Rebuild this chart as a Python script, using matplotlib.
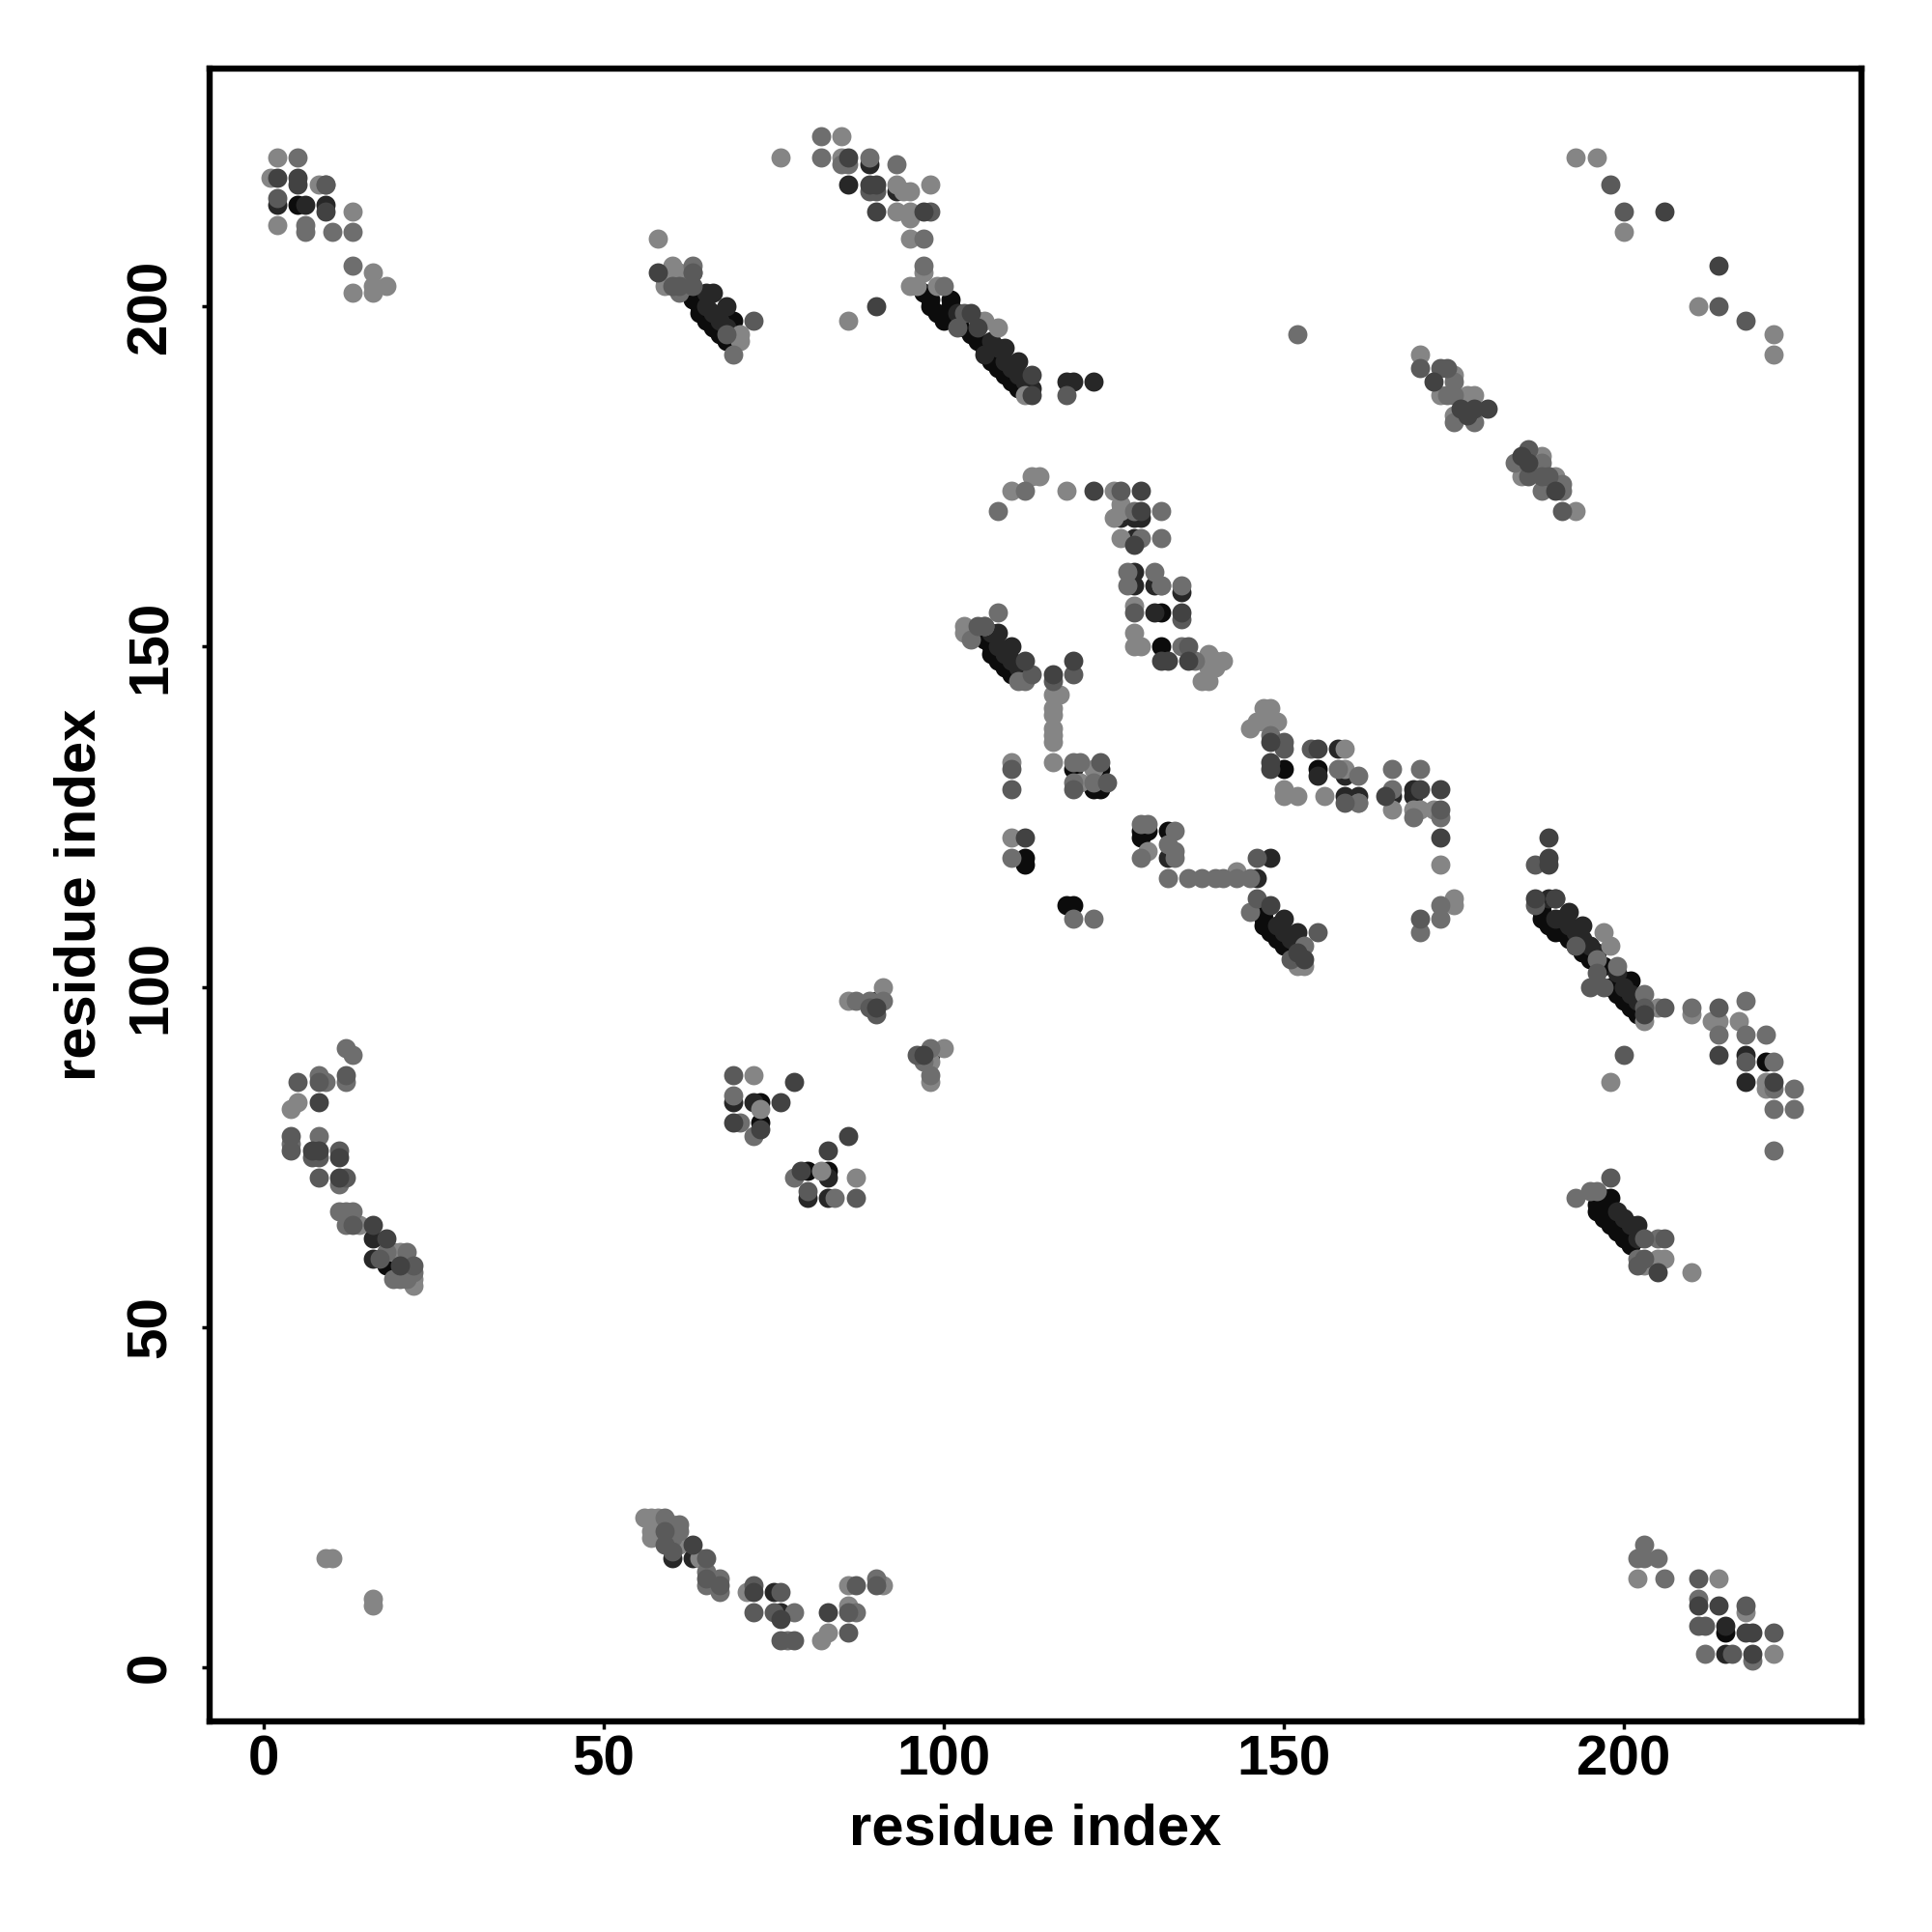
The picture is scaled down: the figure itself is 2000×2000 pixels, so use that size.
import matplotlib
matplotlib.use("Agg")
import matplotlib.pyplot as plt

black_contacts = [(5,215),(63,201),(64,200),(64,199),(65,198),(66,197),(67,196),(68,195),(69,198),
    (97,202),(98,201),(98,200),(99,199),(100,198),(101,201),(101,200),(102,198),(103,197),(104,196),(105,195),(106,194),(107,192),(108,191),(109,190),(110,189),(111,188),(112,188),(108,193),
    (132,150),(132,155),(150,132),(155,132),
    (106,151),(107,150),(107,149),(108,148),(109,147),(110,146),(111,146),
    (112,119),(112,118),(118,112),(119,112),(129,123),(129,122),(130,123),(133,123),
    (123,132),(122,129),(123,129),(123,130),(119,132),
    (147,111),(147,110),(147,109),(148,108),(149,107),(150,106),(151,106),(150,108),(151,107),
    (221,89),(215,5),
    (188,112),(188,111),(188,110),(189,109),(190,108),(191,108),(192,107),(193,106),(194,105),(195,104),(197,103),(198,100),(199,99),(200,98),(201,97),(202,96),(200,101),(201,101),
    (197,69),(198,69),(196,68),(197,67),(197,66),(198,65),(199,64),(200,63),(201,62),(196,67),(197,68),
    (18,59),(60,18),(73,83),(73,80),(80,73),(83,73)]

dark2_contacts = [(2,215),(6,215),(9,215),(89,221),(86,218),(93,217),(122,189),(65,202),(66,202),(68,200),(109,194),(111,192),(106,193),
    (113,188),(107,195),(108,194),
    (126,169),(128,169),(129,169),(128,166),(128,161),(128,159),(131,159),(135,158),(131,155),(107,152),(108,152),(110,150),(119,189),(118,189),
    (158,135),(155,131),(159,131),(166,128),(169,129),(169,128),(133,119),(146,116),(148,119),(150,110),(152,108),(192,111),(194,109),(189,113),
    (218,90),(218,86),(202,65),(16,63),(16,60),(60,16),(63,16),(75,11),(76,8),(215,6),(215,2),(90,98),(98,90),(69,83),(72,83),(83,72),(83,69),(80,69),(161,128),(159,128),(199,102),(200,100),
    (190,110),(191,110),(192,109),(193,108),(194,107),(195,106),(196,105),(199,67),(200,66),(201,65),(202,63),
    (108,150),(109,149),(110,148),(111,147),(149,109),(150,108),(151,107),(152,106),(65,200),(66,199),(67,198),(68,197),(109,192),(110,191),(111,190),(112,189),(102,199),(201,99),(202,98)]

dark_contacts = [(2,219),(5,219),(5,218),(9,214),(58,205),(86,222),(89,218),(90,218),(90,214),(97,214),(104,199),(113,190),(113,187),(119,148),(116,146),
    (129,173),(122,173),(129,170),(128,165),(135,155),(132,148),(133,148),(136,148),(112,148),
    (172,189),(176,185),(178,185),(180,185),(177,184),(185,178),(186,177),(190,173),(206,214),(214,206),(148,136),(155,135),(148,133),(148,132),(165,128),
    (170,129),(173,129),(173,122),(189,122),(189,119),(189,118),(187,113),(190,113),(148,112),(152,105),(153,104),(112,122),(203,96),
    (214,90),(222,86),(205,58),(8,83),(7,76),(8,76),(11,75),(11,72),(16,65),(18,63),(20,59),(63,18),(72,11),(76,7),(83,8),
    (90,97),(97,90),(78,86),(76,83),(69,80),(73,79),(83,76),(86,78),(79,73),(211,9),(214,9),(218,5),(219,5),(219,2),(90,200),(105,197)]

mid_contacts = [(2,216),(9,218),(63,205),(60,203),(61,203),(63,203),(72,198),(68,196),(89,217),(90,217),(98,214),(102,197),(103,199),(118,187),
    (198,218),(200,214),(214,200),(218,198),(170,191),(173,191),(174,191),(191,170),(188,175),(186,175),(189,175),(186,179),
    (126,173),(135,154),(128,155),(136,150),(105,153),(106,153),(113,146),(119,146),(116,145),(110,132),(110,129),(119,129),(124,130),(123,133),
    (150,136),(150,135),(154,135),(159,127),(173,126),(146,119),(187,118),(170,110),(146,113),(155,108),(151,104),(187,112),(190,113),(193,106),(203,97),(206,97),(214,97),(218,89),
    (198,72),(203,63),(206,63),(203,60),(202,59),(200,90),
    (5,86),(8,86),(12,87),(4,78),(4,76),(7,75),(8,75),(11,76),(8,72),(12,72),(13,65),(17,60),(22,59),
    (59,20),(59,18),(60,17),(65,16),(65,13),(67,12),(72,12),(72,8),(75,8),(76,11),(76,4),(78,4),(86,5),(86,8),(87,12),(90,12),
    (89,97),(90,96),(96,90),(69,87),(80,70),(87,69),(211,13),(211,6),(212,6),(218,9),(216,2),(222,5),(196,102),(195,100),(197,100)]

midlight_contacts = [(5,222),(9,218),(6,212),(6,211),(10,211),(13,211),(13,206),(62,203),(61,202),(63,206),(63,205),(69,193),(82,225),(85,221),(86,221),(89,222),(93,221),
    (82,222),(97,210),(97,206),(100,203),(152,196),(175,189),(174,187),(175,187),(178,183),(175,183),(188,177),(188,173),(191,174),(191,173),(184,177),
    (112,173),(108,170),(128,170),(132,170),(129,166),(132,166),(127,161),(127,159),(131,161),(132,159),(135,159),(135,150),(137,148),(108,155),(104,151),
    (111,145),(112,145),(119,133),(120,133),(119,130),(122,130),(110,119),(119,110),(122,110),(129,119),(134,123),(130,124),(129,124),(134,120),(134,119),(133,121),
    (133,116),(136,116),(138,116),(140,116),(141,116),(143,116),(145,116),(148,137),(158,132),(161,131),(161,127),(166,132),(170,132),(166,129),(169,125),(173,125),(173,112),(173,110),(170,108),
    (145,111),(153,106),(203,99),(210,97),(214,93),(218,98),(218,93),(221,93),(222,89),(222,85),(225,85),(222,82),(225,82),(222,76),
    (193,69),(195,70),(196,70),(202,60),(205,63),
    (12,91),(13,90),(8,87),(9,86),(12,86),(4,77),(8,78),(11,71),(11,67),(12,67),(13,67),(12,65),(18,61),(21,61),(19,57),(20,57),(21,57),(22,58),
    (59,22),(61,21),(61,20),(60,19),(65,14),(65,12),(67,13),(67,11),(78,8),(77,4),(87,8),(90,13),
    (87,98),(89,98),(91,98),(98,91),(97,89),(98,87),(69,84),(70,80),(72,78),(78,72),(84,69),(203,18),(202,16),(203,16),(205,16),(206,13),(211,10),(212,2),(219,1),(199,103),(196,104)]

light_contacts = [(2,222),(1,219),(8,218),(13,214),(2,212),(16,205),(16,203),(16,202),(18,203),(13,202),(9,16),(10,16),(16,10),(16,9),
    (58,210),(60,206),(61,205),(59,204),(59,203),(60,204),(70,196),(70,195),
    (85,225),(76,222),(85,222),(93,218),(94,217),(95,217),(98,218),(93,214),(95,214),(95,213),(95,210),(97,205),
    (95,203),(96,203),(99,203),(105,198),(106,198),(108,197),(112,187),(86,198),(193,222),(196,222),(200,211),(211,200),(222,196),(222,193),
    (170,193),(175,190),(173,187),(177,187),(178,187),(175,184),(188,178),(185,175),(190,175),(193,170),
    (113,175),(114,175),(110,173),(118,173),(125,173),(126,171),(126,170),(125,169),(126,166),(132,159),(128,156),(128,152),(128,150),(129,150),
    (139,149),(141,148),(139,147),(140,147),(140,148),(138,145),(139,145),(103,153),(103,152),(106,153),
    (116,143),(117,143),(116,141),(116,140),(116,138),(116,137),(116,136),(116,133),(110,133),(120,130),(122,132),(110,122),(130,120),(143,117),
    (147,141),(148,141),(145,138),(146,139),(147,139),(149,139),(150,129),(150,128),(152,128),(156,128),(159,135),(159,132),(161,127),(166,126),(169,126),(170,126),(172,126),(173,118),(175,113),(175,112),
    (153,103),(152,103),(197,108),(198,106),(205,97),(210,96),(213,95),(214,95),(217,95),(221,86),(221,85),(198,86),(203,95),(203,59),(205,60),(206,60),(210,58),
    (4,82),(5,83),(14,65),(19,61),(20,61),(22,57),(22,56),
    (56,22),(57,22),(58,22),(57,20),(57,19),(60,21),(61,18),(64,16),(71,11),(82,4),(83,5),(86,9),(86,12),(91,12),
    (91,100),(86,98),(100,91),(98,89),(98,86),(72,87),(73,82),(82,73),(87,72),(202,13),(214,13),(218,8),(222,2)]

x_ticks = [0, 50, 100, 150, 200]
y_ticks = [0, 50, 100, 150, 200]
axis_limits = (-8, 235)
axis_title = "residue index"

plt.rcParams["font.family"] = ["Liberation Sans", "DejaVu Sans"]
plt.rcParams["font.weight"] = "bold"

fig = plt.figure(figsize=(20, 20), dpi=100, facecolor="white")
ax = fig.add_axes([0.1085, 0.109, 0.855, 0.8555])

groups = [(black_contacts, "#0c0c0c"), (dark2_contacts, "#272727"),
          (light_contacts, "#858585"), (midlight_contacts, "#6e6e6e"),
          (mid_contacts, "#5a5a5a"), (dark_contacts, "#424242")]
for order, (pairs, colour) in enumerate(groups):
    xs = [p[0] for p in pairs]
    ys = [p[1] for p in pairs]
    ax.scatter(xs, ys, s=205, c=colour, linewidths=0, zorder=3 + order)

ax.set_xlim(*axis_limits)
ax.set_ylim(*axis_limits)
ax.set_xticks(x_ticks)
ax.set_yticks(y_ticks)
ax.tick_params(axis="x", length=6, width=2.5, labelsize=42, color="black", pad=4)
ax.tick_params(axis="y", length=6, width=2.5, labelsize=42, color="black", pad=18)
for lab in ax.get_yticklabels():
    lab.set_rotation(90)
    lab.set_va("center")
for s in ax.spines.values():
    s.set_linewidth(4.6)
ax.set_xlabel(axis_title, fontsize=43, fontweight="bold", labelpad=12)
ax.set_ylabel(axis_title, fontsize=43, fontweight="bold", labelpad=14)
fig.savefig("out.png", dpi=100)
